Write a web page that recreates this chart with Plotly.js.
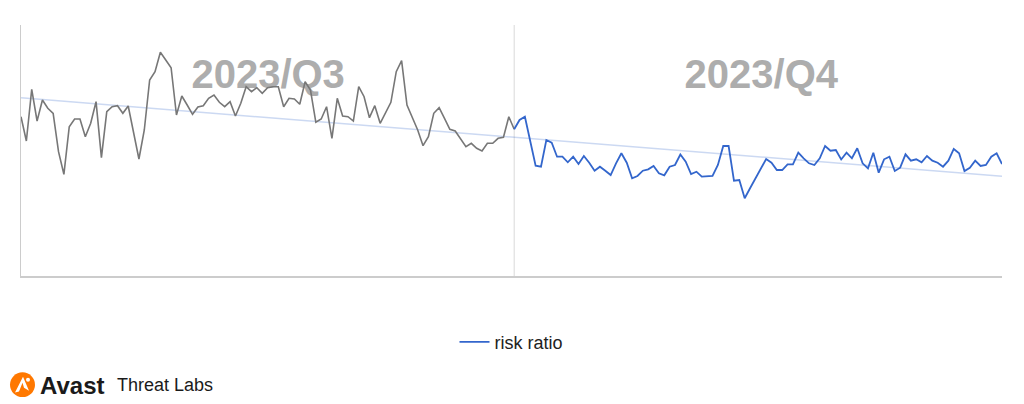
<!DOCTYPE html>
<html>
<head>
<meta charset="utf-8">
<script src="https://cdn.plot.ly/plotly-3.0.1.min.js"></script>
<style>
  html, body { margin: 0; padding: 0; background: #ffffff; }
  #chart { width: 1024px; height: 404px; }
</style>
</head>
<body>
<div id="chart"></div>
<script>
// ---- Data ----
const seriesName = "risk ratio";
const quarterLabels = ["2023/Q3", "2023/Q4"];

// Daily values, 2023-07-01 .. 2023-09-30 (Q3, 92 days)
const q3Values = [
  159.3, 135, 186.7, 155, 176, 167.7, 162.7, 124.3, 101.7, 149.3,
  157, 157, 139.3, 152.7, 174.3, 118.3, 164.3, 169.3, 170.3, 162.7,
  170, 142.7, 117, 146, 196, 204.3, 223.7, 216, 208.3, 161,
  180, 171, 161.7, 169, 170.3, 177.7, 181, 173.7, 169.3, 174.3,
  160, 172.7, 189.3, 184.3, 188.3, 182.7, 188.3, 189.3, 189.3, 169.3,
  177.7, 177, 171.7, 194.3, 186, 153.7, 157, 169.3, 137.7, 177.7,
  160, 159.3, 155, 189.3, 179.3, 158.3, 170.3, 152.7, 162.7, 173.7,
  204.3, 215.3, 171, 159.3, 146, 130.3, 139.3, 162.7, 168.3, 157.7,
  146.7, 145, 137, 129.3, 132.7, 127.7, 125, 132.7, 132.7, 137.7,
  138.7, 159.3
];

// Daily values, 2023-10-01 .. 2023-12-31 (Q4, 92 days)
const q4Values = [
  146.7, 156, 159.3, 136, 110.3, 109.3, 136, 133.3, 119.3, 119.3,
  113.7, 119.3, 112, 120, 113.3, 105.3, 109.3, 105.3, 101, 112.7,
  122.7, 113.3, 97.7, 100, 105.3, 106.7, 110, 102.7, 100.7, 109.3,
  111, 121.5, 114.3, 102, 104.3, 99.3, 100, 100, 111, 130,
  130, 95.3, 96, 77.7, 87.7, 97.7, 107.7, 117, 113.3, 106,
  106, 111.7, 111.7, 123.3, 117.7, 112.7, 111, 117.7, 130, 125.3,
  126, 116.5, 123.3, 117.7, 127.7, 112.7, 107.7, 123.3, 103.3, 116.7,
  119.3, 105, 108.3, 121.7, 115.3, 116.7, 113.7, 120, 115.3, 113.3,
  109.3, 115.3, 127, 122.7, 105, 108.3, 115.3, 110, 111, 119.3,
  122.7, 112
];

// ---- Build traces ----
const q3Days = q3Values.map((_, i) => i);
const q4Days = q4Values.map((_, i) => q3Values.length + i);

const allDays = q3Days.concat(q4Days);
const allValues = q3Values.concat(q4Values);

// Linear trendline (least squares) over the whole series
const n = allDays.length;
const mx = allDays.reduce((a, b) => a + b, 0) / n;
const my = allValues.reduce((a, b) => a + b, 0) / n;
let sxy = 0, sxx = 0;
for (let i = 0; i < n; i++) {
  sxy += (allDays[i] - mx) * (allValues[i] - my);
  sxx += (allDays[i] - mx) * (allDays[i] - mx);
}
const slope = sxy / sxx;
const intercept = my - slope * mx;
const trendX = [allDays[0], allDays[n - 1]];
const trendY = trendX.map(x => intercept + slope * x);

const q3Mid = (q3Days[0] + q3Days[q3Days.length - 1]) / 2;
const q4Mid = (q4Days[0] + q4Days[q4Days.length - 1]) / 2;

const traces = [
  {
    // quarter watermark labels, drawn beneath the lines
    x: [q3Mid + 0.6, q4Mid + 0.6], y: [198, 198], type: "scatter", mode: "text",
    text: quarterLabels, textposition: "middle center",
    textfont: { size: 40, color: "#adadad", family: "Arial, 'Liberation Sans', sans-serif", weight: "bold" },
    showlegend: false, hoverinfo: "skip", cliponaxis: false
  },
  {
    x: trendX, y: trendY, type: "scatter", mode: "lines",
    line: { color: "rgba(51,102,204,0.25)", width: 1.5 },
    showlegend: false, hoverinfo: "skip"
  },
  {
    // Q3 drawn in gray, joined to the first Q4 day
    x: q3Days.concat([q4Days[0]]),
    y: q3Values.concat([q4Values[0]]),
    type: "scatter", mode: "lines",
    line: { color: "#777777", width: 1.6 },
    showlegend: false, hoverinfo: "skip"
  },
  {
    x: q4Days, y: q4Values, type: "scatter", mode: "lines",
    name: seriesName,
    line: { color: "#3366cc", width: 1.8 }
  }
];

const layout = {
  width: 1024, height: 404,
  margin: { l: 21, r: 22, t: 25, b: 128, pad: 0 },
  paper_bgcolor: "#ffffff", plot_bgcolor: "#ffffff",
  font: { family: "Arial, 'Liberation Sans', sans-serif", color: "#222222" },
  xaxis: {
    range: [0, allDays[n - 1]],
    showgrid: false, zeroline: false, showticklabels: false, ticks: "",
    showline: true, linecolor: "#cccccc", linewidth: 2, fixedrange: true
  },
  yaxis: {
    range: [0, 251],
    showgrid: false, zeroline: false, showticklabels: false, ticks: "",
    showline: true, linecolor: "#cccccc", linewidth: 1, fixedrange: true
  },
  showlegend: true,
  legend: {
    orientation: "h", x: 0.5, xanchor: "center", y: -0.264, yanchor: "middle",
    font: { size: 18, color: "#222222", family: "Arial, 'Liberation Sans', sans-serif" },
    itemwidth: 30, bgcolor: "rgba(0,0,0,0)"
  },
  shapes: [
    {
      type: "line", xref: "x", yref: "paper",
      x0: q4Days[0], x1: q4Days[0], y0: 0, y1: 1,
      line: { color: "#d9d9d9", width: 1 }, layer: "below"
    },
    {
      // Avast logo disc
      type: "circle", xref: "paper", yref: "paper",
      x0: (10 - 21) / 981, x1: (35 - 21) / 981,
      y0: (276 - 398.5) / 254, y1: (276 - 373.5) / 254,
      fillcolor: "#ff7800", line: { width: 0 }
    },
    {
      type: "path", xref: "paper", yref: "paper",
      path: (function () {
        const px = v => (v - 21) / 981, py = v => (276 - v) / 254;
        return "M " + px(15) + "," + py(394) + " L " + px(23) + "," + py(378) +
               " L " + px(29) + "," + py(392) + " L " + px(24) + "," + py(389) +
               " L " + px(22.5) + "," + py(384) + " L " + px(19) + "," + py(393) + " Z";
      })(),
      fillcolor: "#ffffff", line: { width: 0 }
    },
    {
      type: "circle", xref: "paper", yref: "paper",
      x0: (26 - 21) / 981, x1: (30 - 21) / 981,
      y0: (276 - 383) / 254, y1: (276 - 379) / 254,
      fillcolor: "#ffffff", line: { width: 0 }
    }
  ],
  annotations: [
    {
      x: (38 - 21) / 981, y: (276 - 386.5) / 254, xref: "paper", yref: "paper",
      text: "<b>Avast</b>", showarrow: false, xanchor: "left", yanchor: "middle",
      font: { size: 24, color: "#1a1a1a", family: "Arial, 'Liberation Sans', sans-serif" }
    },
    {
      x: (115 - 21) / 981, y: (276 - 386.5) / 254, xref: "paper", yref: "paper",
      text: "Threat Labs", showarrow: false, xanchor: "left", yanchor: "middle",
      font: { size: 18, color: "#1a1a1a", family: "Arial, 'Liberation Sans', sans-serif" }
    }
  ]
};

Plotly.newPlot("chart", traces, layout, { staticPlot: true, displayModeBar: false });
</script>
</body>
</html>
